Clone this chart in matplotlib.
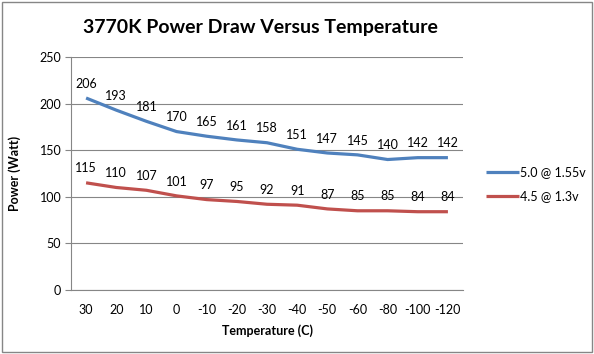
import matplotlib.pyplot as plt
from matplotlib.patches import Rectangle

plt.rcParams['font.family'] = ['Lato', 'DejaVu Sans']

# data
temps = ['30', '20', '10', '0', '-10', '-20', '-30', '-40', '-50', '-60', '-80', '-100', '-120']
power_50 = [206, 193, 181, 170, 165, 161, 158, 151, 147, 145, 140, 142, 142]
power_45 = [115, 110, 107, 101, 97, 95, 92, 91, 87, 85, 85, 84, 84]
series_names = ['5.0 @ 1.55v', '4.5 @ 1.3v']
colors = ['#4F81BD', '#C0504D']

fs = 9

fig = plt.figure(figsize=(5.94, 3.54), dpi=100)
ax = fig.add_axes([71 / 594, 1 - 290 / 354, (463 - 71) / 594, (290 - 57) / 354])

x = range(len(temps))
for vals, name, c in zip([power_50, power_45], series_names, colors):
    ax.plot(x, vals, color=c, lw=2.3, label=name, solid_capstyle='butt')
    for xi, v in zip(x, vals):
        ax.annotate(str(v), (xi, v), xytext=(0, 6), textcoords='offset points',
                    ha='center', va='bottom', fontsize=fs)

ax.set_xlim(-0.5, len(temps) - 0.5)
ax.set_ylim(0, 250)
ax.set_yticks(range(0, 251, 50))
ax.set_xticks(list(x))
ax.set_xticklabels(temps)
ax.grid(axis='y', color='#868686', lw=0.8)
ax.set_axisbelow(True)
for s in ['top', 'right']:
    ax.spines[s].set_visible(False)
for s in ['left', 'bottom']:
    ax.spines[s].set_color('#868686')
ax.tick_params(axis='x', length=0, pad=10, labelsize=fs)
ax.tick_params(axis='y', length=4, color='#868686', pad=3, labelsize=fs)

ax.set_xlabel('Temperature (C)', fontsize=fs, fontweight='bold', labelpad=6)
ax.set_ylabel('Power (Watt)', fontsize=fs, fontweight='bold', labelpad=13)
fig.suptitle('3770K Power Draw Versus Temperature', fontsize=14, fontweight='bold',
             x=260 / 594, y=0.945)

ax.legend(loc='center left', bbox_to_anchor=(1.03, 0.455), frameon=False, fontsize=fs,
          handlelength=2.6, handletextpad=0.1, labelspacing=0.95)

fig.patches.append(Rectangle((0.004, 0.006), 0.992, 0.988, transform=fig.transFigure,
                             fill=False, edgecolor='#868686', lw=1))

fig.savefig('out.png', dpi=100)
